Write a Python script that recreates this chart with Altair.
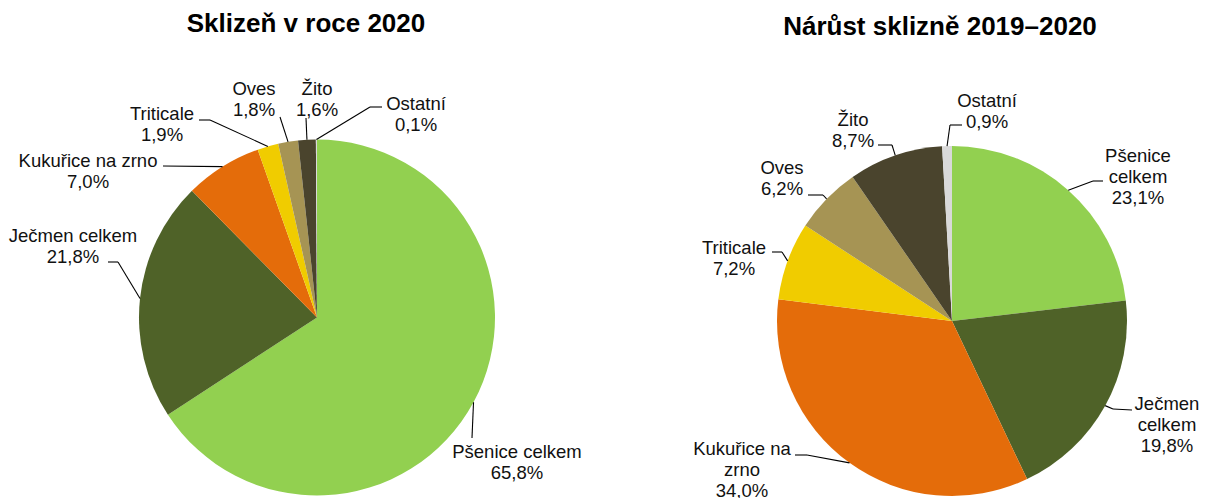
import math
import altair as alt
import pandas as pd

# ---------------- data ----------------
crops = ["Pšenice celkem", "Ječmen celkem", "Kukuřice na zrno", "Triticale",
         "Oves", "Žito", "Ostatní"]
share_2020 = [65.8, 21.8, 7.0, 1.9, 1.8, 1.6, 0.1]
growth_2019_2020 = [23.1, 19.8, 34.0, 7.2, 6.2, 8.7, 0.9]
names_left = ["Pšenice celkem", "Ječmen celkem", "Kukuřice na zrno", "Triticale",
              "Oves", "Žito", "Ostatní"]
names_right = ["Pšenice\ncelkem", "Ječmen\ncelkem", "Kukuřice na\nzrno", "Triticale",
               "Oves", "Žito", "Ostatní"]
colors = ["#92D050", "#4F6228", "#E46C0A", "#F0CC00", "#A69454", "#4A442D", "#D9D9D9"]
title_left = "Sklizeň v roce 2020"
title_right = "Nárůst sklizně 2019–2020"

# ---------------- layout ----------------
W, H = 1213, 498
FONT = "Liberation Sans"
panels = [
    dict(values=share_2020, names=names_left, title=title_left,
         cx=317, cy=317.5, r=178, title_pos=(306, 32),
         label_pos=[(517, 452), (73, 236), (88, 161), (162, 114), (254, 89), (317, 89), (416, 104)],
         elbow=[None, (118, 262), None, (210, 120), None, None, (370, 107)],
         end=[(472, 438), (108, 262), (163, 166), (199, 120), (280, 117), (306, 118), (382, 107)]),
    dict(values=growth_2019_2020, names=names_right, title=title_right,
         cx=952, cy=321, r=175, title_pos=(940, 35),
         label_pos=[(1138, 156), (1167, 404), (742, 449), (734, 248), (782, 168), (853, 120), (987, 101)],
         elbow=[(1093, 181), (1113, 409), (807, 455), (782, 252), (823, 195), (892, 145), (950, 125)],
         end=[(1103, 181), (1132, 410), (795, 455), (772, 252), (808, 195), (878, 145), (962, 125)]),
]

xs = alt.Scale(domain=[0, W], nice=False, zero=False)
ys = alt.Scale(domain=[0, H], nice=False, zero=False, reverse=True)
color_scale = alt.Scale(domain=crops, range=colors)

layers = []
for p in panels:
    vals = p["values"]
    total = sum(vals)
    df = pd.DataFrame({"crop": crops, "value": vals, "idx": list(range(len(crops)))})
    arc = alt.Chart(df).mark_arc(outerRadius=p["r"]).encode(
        theta=alt.Theta("value:Q", stack="normalize"),
        order=alt.Order("idx:Q", sort="ascending"),
        color=alt.Color("crop:N", scale=color_scale, legend=None),
        x=alt.value(p["cx"]),
        y=alt.value(p["cy"]),
    )
    layers.append(arc)

    # leader lines: from slice mid-angle on the rim to the label
    segs = []
    cum = 0.0
    for i, v in enumerate(vals):
        mid = (cum + v / 2) / total * 2 * math.pi
        cum += v
        ex = p["cx"] + p["r"] * math.sin(mid)
        ey = p["cy"] - p["r"] * math.cos(mid)
        pts = [(ex, ey)]
        if p["elbow"][i] is not None:
            pts.append(p["elbow"][i])
        pts.append(p["end"][i])
        for (a, b), (c, d) in zip(pts[:-1], pts[1:]):
            segs.append({"x": a, "y": b, "x2": c, "y2": d})
    lines = alt.Chart(pd.DataFrame(segs)).mark_rule(color="#000000", strokeWidth=1.1).encode(
        x=alt.X("x:Q", scale=xs, axis=None),
        y=alt.Y("y:Q", scale=ys, axis=None),
        x2="x2:Q", y2="y2:Q",
    )
    layers.append(lines)

    lab = pd.DataFrame({
        "lx": [q[0] for q in p["label_pos"]],
        "ly": [q[1] for q in p["label_pos"]],
        "text": [f"{n}\n{v:.1f}".replace(".", ",") + "%" for n, v in zip(p["names"], vals)],
    })
    texts = alt.Chart(lab).mark_text(
        font=FONT, fontSize=18.5, lineHeight=21, lineBreak="\n",
        align="center", baseline="middle", color="#111111",
    ).encode(
        x=alt.X("lx:Q", scale=xs, axis=None),
        y=alt.Y("ly:Q", scale=ys, axis=None),
        text="text:N",
    )
    layers.append(texts)

    tdf = pd.DataFrame({"tx": [p["title_pos"][0]], "ty": [p["title_pos"][1]], "t": [p["title"]]})
    title = alt.Chart(tdf).mark_text(
        font=FONT, fontSize=26, fontWeight="bold", align="center",
        baseline="alphabetic", color="#000000",
    ).encode(
        x=alt.X("tx:Q", scale=xs, axis=None),
        y=alt.Y("ty:Q", scale=ys, axis=None),
        text="t:N",
    )
    layers.append(title)

chart = alt.layer(*layers).properties(
    width=W, height=H, padding=0, autosize=alt.AutoSizeParams(type="none"),
    background="white",
).configure_view(stroke=None)

chart.save("out.html", embed_options={"renderer": "svg", "actions": False})
